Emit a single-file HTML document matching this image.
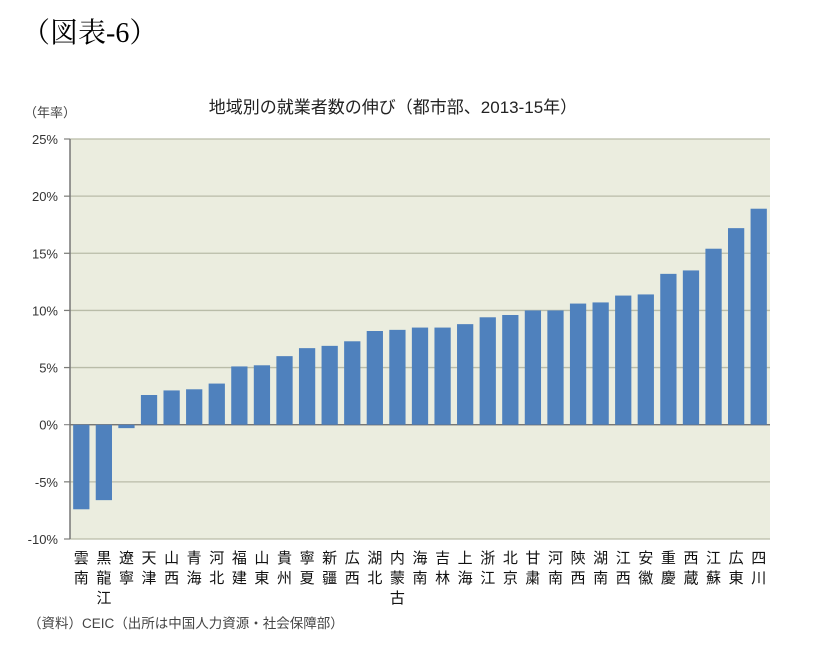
<!DOCTYPE html>
<html><head><meta charset="utf-8"><style>
body{margin:0;background:#fff;width:817px;height:647px;overflow:hidden;font-family:"Liberation Sans","Noto Sans CJK JP",sans-serif;}
</style></head><body>
<svg width="817" height="647" xmlns="http://www.w3.org/2000/svg" style="font-family:'Liberation Sans','Noto Sans CJK JP',sans-serif">
<text x="22" y="42" font-size="28" fill="#000" font-family="'Liberation Serif','Noto Serif CJK SC',serif">（図表-6）</text>
<text x="393" y="113" font-size="17" text-anchor="middle" fill="#222">地域別の就業者数の伸び（都市部、2013-15年）</text>
<text x="24" y="117" font-size="13" fill="#444">（年率）</text>
<rect x="70" y="139" width="700" height="400" fill="#EBEDDF"/>
<g id="grid"></g>
<g id="bars"></g>
<g id="labels"></g>
<line x1="70" y1="139" x2="70" y2="539" stroke="#777" stroke-width="1.5"/>
<text x="28" y="628" font-size="13.5" fill="#444">（資料）CEIC（出所は中国人力資源・社会保障部）</text>
</svg>
<script>
const categories=["雲南","黒龍江","遼寧","天津","山西","青海","河北","福建","山東","貴州","寧夏","新疆","広西","湖北","内蒙古","海南","吉林","上海","浙江","北京","甘粛","河南","陝西","湖南","江西","安徽","重慶","西蔵","江蘇","広東","四川"];
const values=[-7.4,-6.6,-0.3,2.6,3.0,3.1,3.6,5.1,5.2,6.0,6.7,6.9,7.3,8.2,8.3,8.5,8.5,8.8,9.4,9.6,10.0,10.0,10.6,10.7,11.3,11.4,13.2,13.5,15.4,17.2,18.9];
const tickValues=[25,20,15,10,5,0,-5,-10];
const tickLabels=["25%","20%","15%","10%","5%","0%","-5%","-10%"];
const NS="http://www.w3.org/2000/svg";
const X0=70,X1=770,YT=139,YB=539,VMAX=25,VMIN=-10;
const y=v=>YT+(VMAX-v)/(VMAX-VMIN)*(YB-YT);
const step=(X1-X0)/categories.length;
const x=i=>X0+i*step;
const grid=document.getElementById('grid'),bars=document.getElementById('bars'),labels=document.getElementById('labels');
tickValues.forEach((t,i)=>{
 const l=document.createElementNS(NS,'line');
 l.setAttribute('x1',t===0?X0:X0-6);l.setAttribute('x2',X1);l.setAttribute('y1',y(t));l.setAttribute('y2',y(t));
 l.setAttribute('stroke',t===0?'#666':'#B9BCA8');l.setAttribute('stroke-width',t===0?1.2:1.3);
 
 
 grid.appendChild(l);
 const tk=document.createElementNS(NS,'line');
 tk.setAttribute('x1',X0-6);tk.setAttribute('x2',X0);tk.setAttribute('y1',y(t));tk.setAttribute('y2',y(t));tk.setAttribute('stroke','#777');
 
 
 grid.appendChild(tk);
 const tx=document.createElementNS(NS,'text');
 tx.setAttribute('x',X0-12);tx.setAttribute('y',y(t)+5);tx.setAttribute('text-anchor','end');tx.setAttribute('font-size','13');tx.setAttribute('fill','#333');
 tx.textContent=tickLabels[i];
 
 
 grid.appendChild(tx);
});
categories.forEach((c,i)=>{
 const v=values[i];const bw=step*0.72;
 const r=document.createElementNS(NS,'rect');
 r.setAttribute('x',x(i)+(step-bw)/2);r.setAttribute('width',bw);
 r.setAttribute('y',Math.min(y(v),y(0)));r.setAttribute('height',Math.abs(y(v)-y(0)));
 r.setAttribute('fill','#4F81BD');
 
 
 bars.appendChild(r);
 [...c].forEach((ch,j)=>{
  const t=document.createElementNS(NS,'text');
  t.setAttribute('x',x(i)+step/2);t.setAttribute('y',563+j*20);t.setAttribute('text-anchor','middle');t.setAttribute('font-size','15');t.setAttribute('fill','#111');
  t.textContent=ch;
  
  
  labels.appendChild(t);
 });
});
</script>
</body></html>
